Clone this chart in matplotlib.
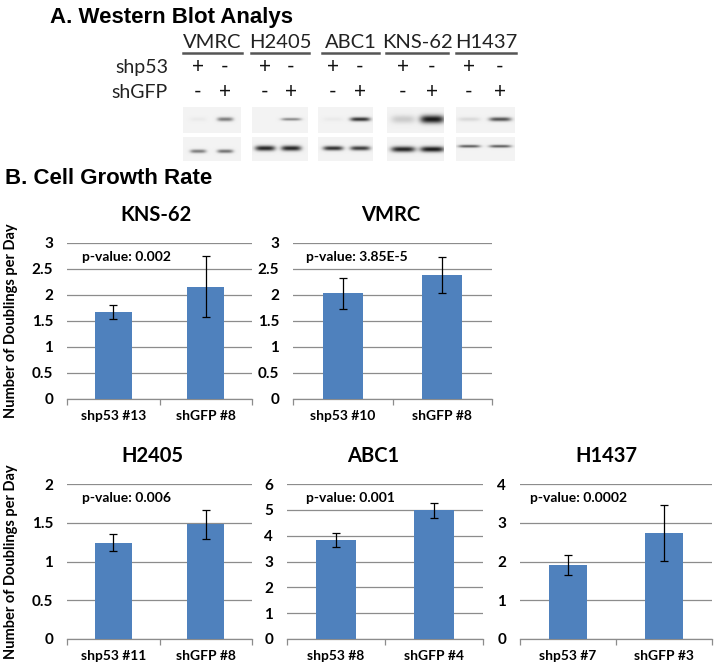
import numpy as np
import matplotlib.pyplot as plt

W, H = 714, 672

# ---- western blot data ----
blot_lines = ['VMRC', 'H2405', 'ABC1', 'KNS-62', 'H1437']
shp53_signs = ['+', '-']
shgfp_signs = ['-', '+']
p53_band = [[0.04, 0.55], [0.0, 0.5], [0.04, 0.9], [0.18, 1.0], [0.12, 0.75]]
loading_band = [[0.55, 0.6], [0.95, 0.95], [0.9, 0.85], [0.95, 1.0], [0.7, 0.7]]

# ---- growth rate data ----
panels = ['KNS-62', 'VMRC', 'H2405', 'ABC1', 'H1437']
groups = [['shp53 #13', 'shGFP #8'], ['shp53 #10', 'shGFP #8'], ['shp53 #11', 'shGFP #8'],
          ['shp53 #8', 'shGFP #4'], ['shp53 #7', 'shGFP #3']]
rates = [[1.67, 2.16], [2.03, 2.39], [1.24, 1.48], [3.83, 4.99], [1.90, 2.74]]
errors = [[0.14, 0.59], [0.30, 0.35], [0.11, 0.19], [0.27, 0.29], [0.26, 0.72]]
pvalues = ['p-value: 0.002', 'p-value: 3.85E-5', 'p-value: 0.006', 'p-value: 0.001', 'p-value: 0.0002']
ymax = [3, 3, 2, 6, 4]
ystep = [0.5, 0.5, 0.5, 1, 1]

# layout (pixels)
chart_boxes = [(67, 243, 252, 399), (293, 243, 492, 399), (67, 484, 252, 639),
               (287, 484, 483, 639), (520, 484, 712, 639)]
title_x = [0.48, 0.49, 0.46, 0.44, 0.45]
ptext_x = [0.08, 0.065, 0.08, 0.097, 0.05]
with_ylabel = [True, False, True, False, False]
blot_x = [(183, 241), (252, 308), (318, 373), (387, 444), (456, 515)]
header_x = [(183, 242), (251, 309), (322, 379), (386, 448), (456, 516)]
lane_x = [(198, 225), (265, 291), (333, 360), (403, 432), (469, 500)]
band_half = [8, 10, 10, 12, 11]
p53_sig = [2.0, 1.4, 2.0, 4.0, 2.0]
load_sig = [1.8, 2.6, 2.2, 2.8, 1.4]
load_y = [151, 148, 148, 149, 146]

BLUE = '#4f81bd'
GRID = '#8c8c8c'

fig = plt.figure(figsize=(W / 100, H / 100), dpi=100)

over = fig.add_axes([0, 0, 1, 1])
over.axis('off')


def band_image(x0, x1, y0, y1, centers, strengths, yc, sig, half, bg=0.95):
    xs = np.arange(x0, x1, 0.5)
    ys = np.arange(y0, y1, 0.5)
    X, Y = np.meshgrid(xs, ys)
    dark = np.zeros_like(X)
    for c, s in zip(centers, strengths):
        dark += s * np.exp(-np.abs((X - c) / half) ** 4) * np.exp(-((Y - yc) / sig) ** 2)
    return np.clip(bg - 0.85 * dark, 0, 1)


over.text(50, 23, 'A. Western Blot Analys', fontsize=16, fontweight='bold',
          family='Liberation Sans', va='baseline')
over.text(5, 184, 'B. Cell Growth Rate', fontsize=16, fontweight='bold',
          family='Liberation Sans', va='baseline')
over.text(168, 68, 'shp53', fontsize=14, family='Lato', ha='right', va='center', color='#222222')
over.text(168, 92, 'shGFP', fontsize=14, family='Lato', ha='right', va='center', color='#222222')

for i, name in enumerate(blot_lines):
    hx0, hx1 = header_x[i]
    over.text((hx0 + hx1) / 2, 48, name, fontsize=14.5, family='Lato', ha='center',
              va='baseline', color='#222222')
    over.plot([hx0, hx1], [52.5, 52.5], color='#555555', lw=1.8)
    for j in range(2):
        over.text(lane_x[i][j], 67, shp53_signs[j], fontsize=15, family='Lato',
                  ha='center', va='center', color='#111111')
        over.text(lane_x[i][j], 92, shgfp_signs[j], fontsize=15, family='Lato',
                  ha='center', va='center', color='#111111')
    bx0, bx1 = blot_x[i]
    top = band_image(bx0, bx1, 107, 133, lane_x[i], p53_band[i], 119, p53_sig[i], band_half[i])
    over.imshow(top, extent=(bx0, bx1, 133, 107), cmap='gray', vmin=0, vmax=1,
                aspect='auto', interpolation='bilinear')
    bot = band_image(bx0, bx1, 137, 161, lane_x[i], loading_band[i], load_y[i], load_sig[i], band_half[i])
    over.imshow(bot, extent=(bx0, bx1, 161, 137), cmap='gray', vmin=0, vmax=1,
                aspect='auto', interpolation='bilinear')

over.set_xlim(0, W)
over.set_ylim(H, 0)

for i, name in enumerate(panels):
    x0, y0, x1, y1 = chart_boxes[i]
    ax = fig.add_axes([x0 / W, 1 - y1 / H, (x1 - x0) / W, (y1 - y0) / H])
    xpos = np.arange(len(groups[i]))
    ax.bar(xpos, rates[i], width=0.4, color=BLUE, zorder=3)
    ax.errorbar(xpos, rates[i], yerr=errors[i], fmt='none', ecolor='black',
                elinewidth=0.9, capsize=3, capthick=0.9, zorder=4)
    ax.set_xlim(-0.5, len(groups[i]) - 0.5)
    ax.set_ylim(0, ymax[i])
    yt = np.arange(0, ymax[i] + ystep[i] / 2, ystep[i])
    ax.set_yticks(yt)
    ax.set_yticklabels([f'{v:g}' for v in yt], fontsize=11, fontweight='bold', family='Lato')
    ax.set_xticks(xpos)
    ax.set_xticklabels(groups[i], fontsize=10, fontweight='bold', family='Lato')
    ax.set_xticks(np.arange(-0.5, len(groups[i])), minor=True)
    ax.tick_params(axis='x', which='major', length=0, pad=8)
    ax.tick_params(axis='x', which='minor', length=4, color=GRID, width=0.9)
    ax.tick_params(axis='y', length=0, pad=10)
    ax.yaxis.grid(True, color=GRID, lw=0.9, zorder=0)
    ax.set_axisbelow(True)
    for s in ['top', 'right', 'left']:
        ax.spines[s].set_visible(False)
    ax.spines['bottom'].set_color(GRID)
    ax.spines['bottom'].set_linewidth(0.9)
    ax.set_title(name, fontsize=14.5, fontweight='bold', family='Lato', x=title_x[i], pad=16)
    ax.text(ptext_x[i], 0.91, pvalues[i], transform=ax.transAxes, fontsize=10,
            fontweight='bold', family='Lato', va='center')
    if with_ylabel[i]:
        ax.set_ylabel('Number of Doublings per Day', fontsize=10.5, fontweight='bold', family='Lato')
        ax.yaxis.set_label_coords((18 - x0) / (x1 - x0), 0.5)

fig.savefig('out.png', dpi=100)
